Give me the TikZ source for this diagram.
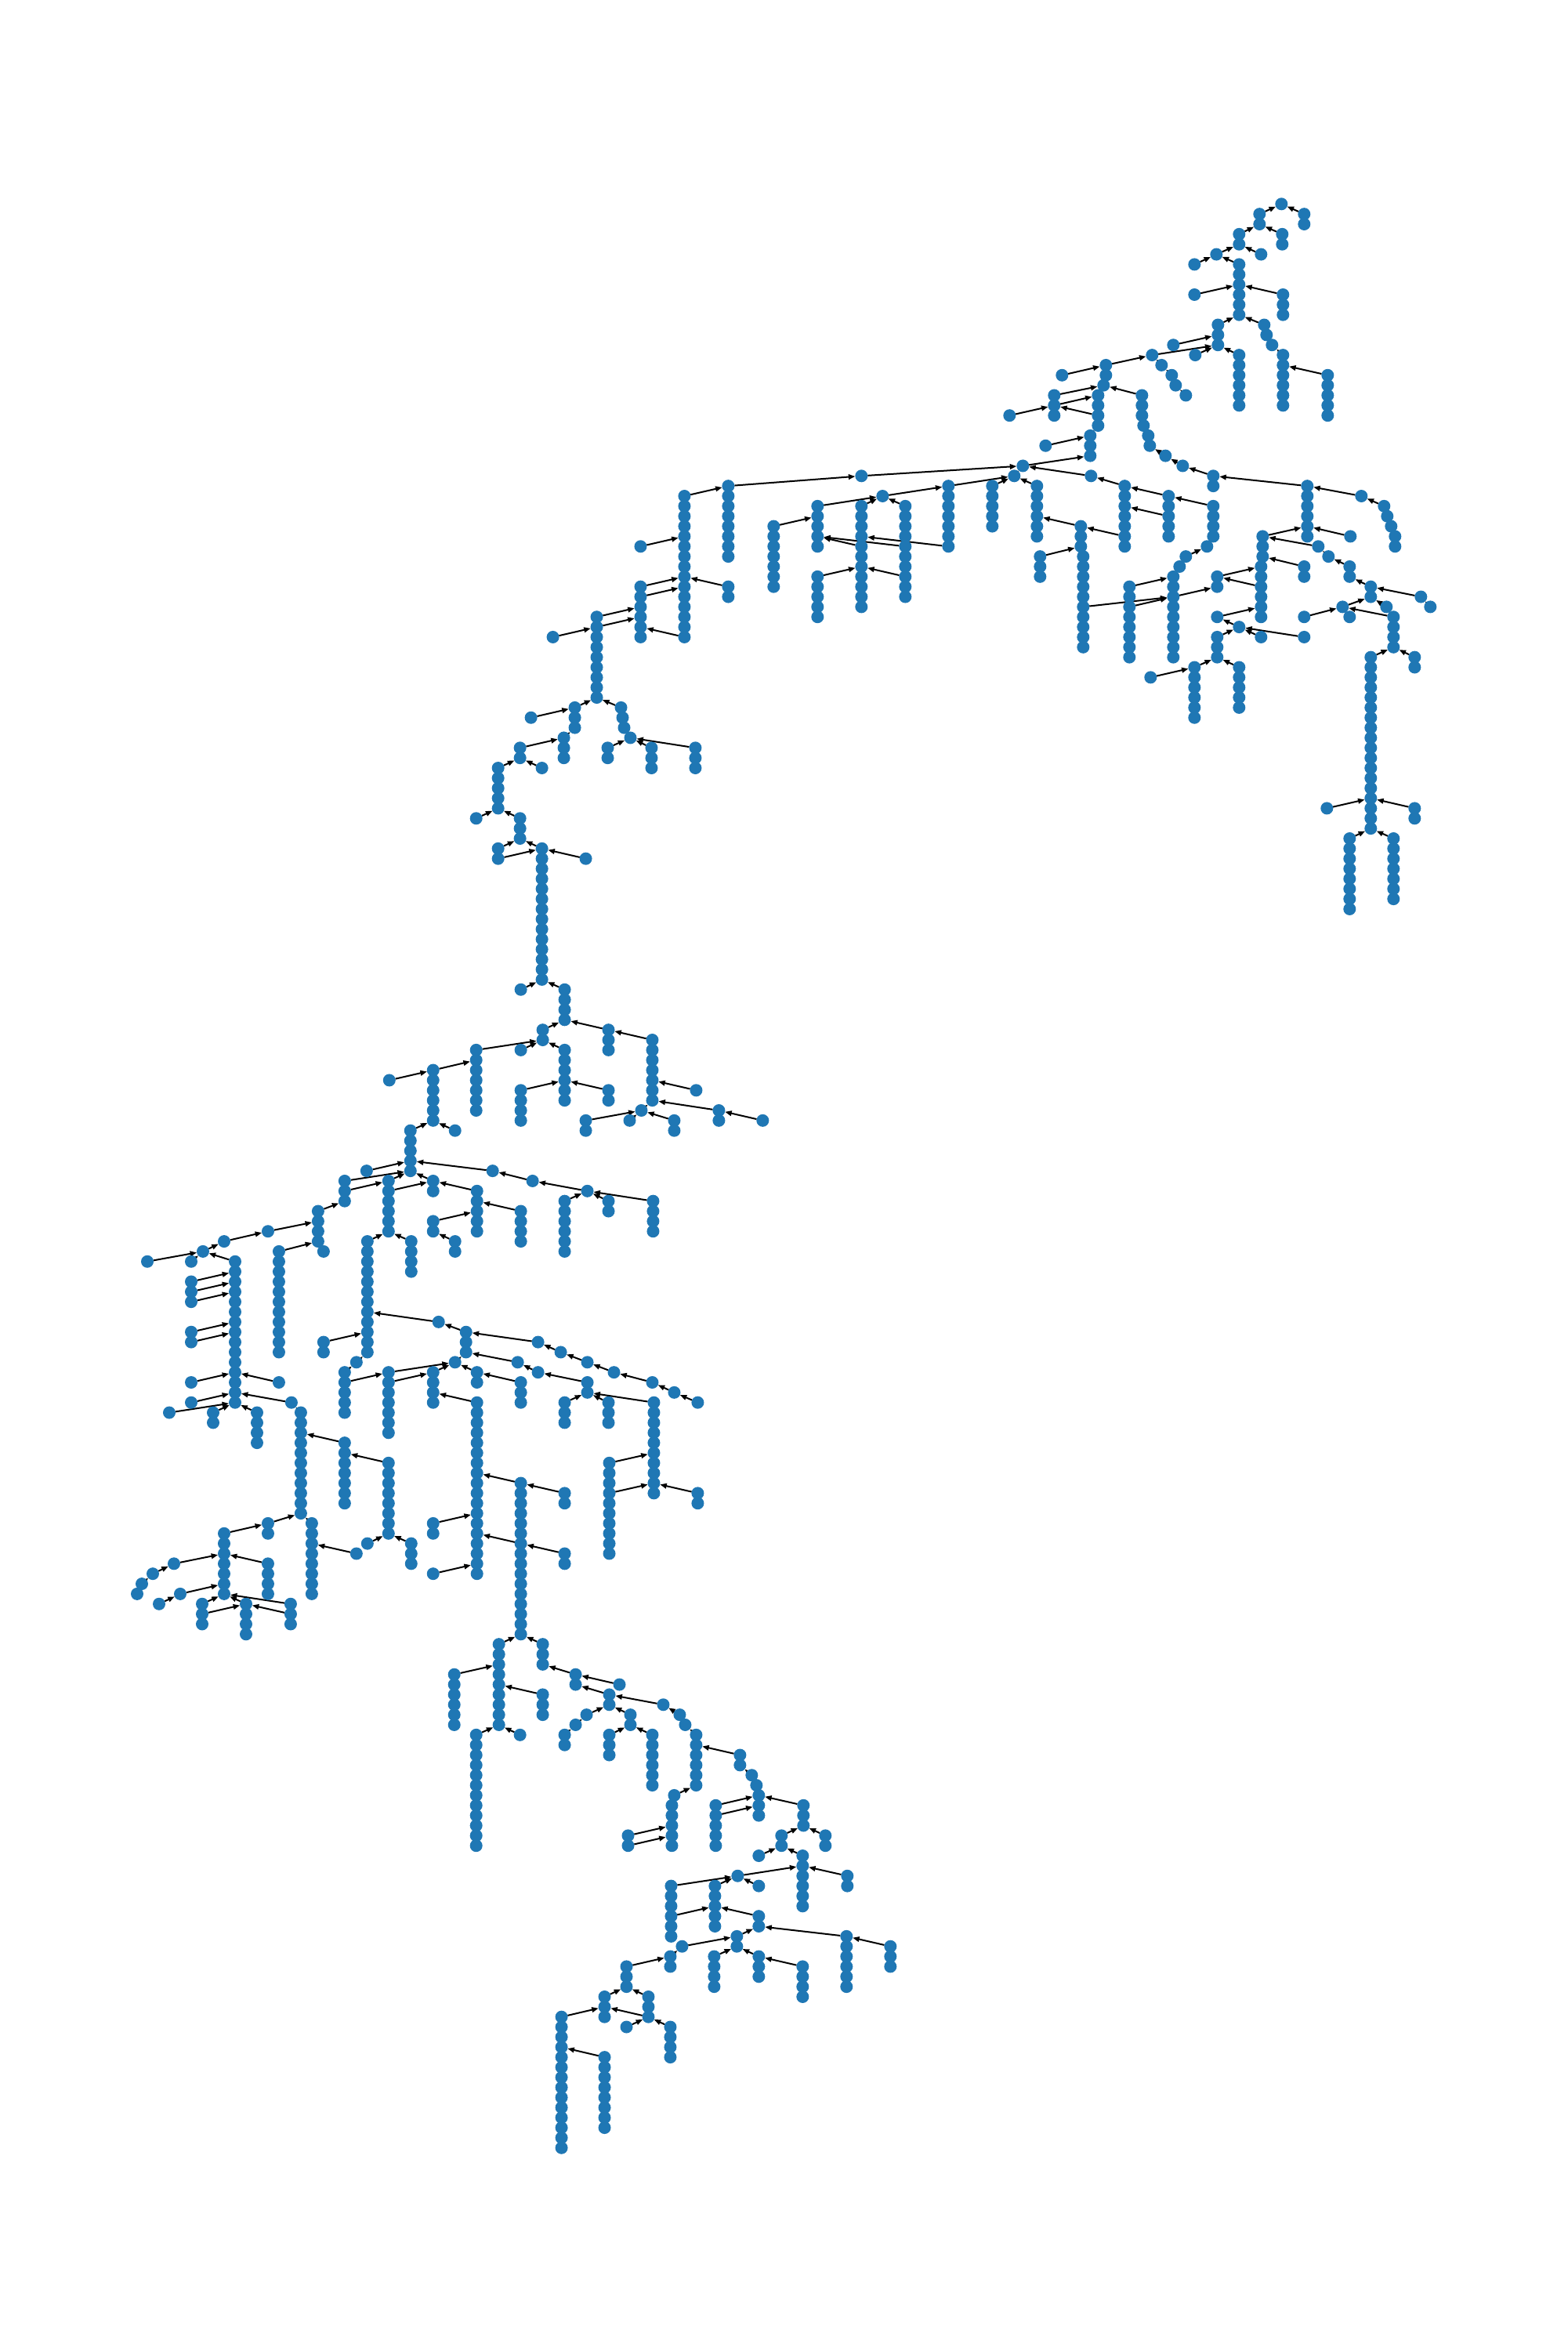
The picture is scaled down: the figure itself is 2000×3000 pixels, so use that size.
\documentclass[tikz,border=0pt]{standalone}
\usetikzlibrary{arrows.meta,backgrounds}
\definecolor{nodeblue}{HTML}{1F77B4}
\tikzset{
  vertex/.style={circle,fill=nodeblue,draw=none,inner sep=0pt,outer sep=0pt,minimum size=16pt},
  hidlink/.style={line width=2pt,black},
  link/.style={line width=2pt,black,-{Triangle[length=8.5pt,width=6.5pt]}}
}
% vertical chain: x, first level, last level
\def\vcnodes#1#2#3{%
  \foreach \l in {#2,...,#3}{%
    \node[vertex] (n#1-\l) at ({(#1-min(0.7,max(0,(#1-300)*0.001)))*1pt},{-(260.3+12.852*\l)*1pt}) {};
  }}
\def\vclinks#1#2#3{%
  \foreach \l in {#2,...,#3}{%
    \ifnum\l>#2\relax
      \pgfmathtruncatemacro{\p}{\l-1}
      \draw[hidlink] (n#1-\p.center) -- (n#1-\l.center);
    \fi
  }}
\def\cn#1#2#3#4{\draw[link] (n#1-#2) -- (n#3-#4);}
\def\allchains{%
\vc{1636}{0}{0}\vc{1608}{1}{2}\vc{1665}{1}{2}\vc{1582}{3}{4}\vc{1637}{3}{4}\vc{1553}{5}{5}\vc{1610}{5}{5}\vc{1525}{6}{6}\vc{1582}{6}{11}\vc{1525}{9}{9}\vc{1638}{9}{11}\vc{1555}{12}{14}\vc{1614}{12}{12}\vc{1617}{13}{13}\vc{1624}{14}{14}\vc{1638}{15}{20}\vc{1695}{17}{21}\vc{1498}{14}{14}\vc{1526}{15}{15}\vc{1582}{15}{20}\vc{1471}{15}{15}\vc{1412}{16}{17}\vc{1483}{16}{16}\vc{1496}{17}{17}\vc{1501}{18}{18}\vc{1514}{19}{19}\vc{1356}{17}{17}\vc{1409}{18}{18}\vc{1402}{19}{22}\vc{1458}{19}{21}\vc{1460}{22}{22}\vc{1466}{23}{23}\vc{1468}{24}{24}\vc{1488}{25}{25}\vc{1510}{26}{26}\vc{1549}{27}{28}\vc{1346}{19}{21}\vc{1289}{21}{21}\vc{1392}{23}{25}\vc{1335}{24}{24}\vc{1306}{26}{26}\vc{1295}{27}{27}\vc{1100}{27}{27}\vc{1393}{27}{27}\vc{1436}{28}{34}\vc{1492}{29}{33}\vc{1549}{30}{33}\vc{1541}{34}{34}\vc{1514}{35}{35}\vc{1506}{36}{36}\vc{1498}{37}{45}\vc{1267}{28}{32}\vc{1324}{28}{33}\vc{1211}{28}{34}\vc{1127}{29}{29}\vc{1044}{30}{34}\vc{1100}{30}{40}\vc{1156}{30}{39}\vc{1380}{32}{34}\vc{1383}{35}{44}\vc{1328}{35}{37}\vc{1442}{38}{45}\vc{1554}{37}{38}\vc{1612}{33}{35}\vc{1610}{36}{41}\vc{1669}{28}{33}\vc{1738}{29}{29}\vc{1767}{30}{30}\vc{1771}{31}{31}\vc{1776}{32}{32}\vc{1781}{33}{34}\vc{1724}{33}{33}\vc{1683}{34}{34}\vc{1696}{35}{35}\vc{1723}{36}{37}\vc{1665}{36}{37}\vc{1750}{38}{39}\vc{1814}{39}{39}\vc{1826}{40}{40}\vc{1714}{40}{40}\vc{1723}{41}{41}\vc{1665}{41}{41}\vc{1770}{40}{40}\vc{1779}{41}{44}\vc{1750}{45}{62}\vc{1806}{45}{46}\vc{1554}{41}{41}\vc{1582}{42}{42}\vc{1554}{43}{45}\vc{1610}{43}{43}\vc{1665}{43}{43}\vc{1525}{46}{51}\vc{1582}{46}{50}\vc{1469}{47}{47}\vc{1694}{60}{60}\vc{1806}{60}{61}\vc{1723}{63}{70}\vc{1779}{63}{69}%
\vc{930}{28}{35}\vc{874}{29}{43}\vc{818}{34}{34}\vc{818}{38}{43}\vc{930}{38}{39}\vc{762}{41}{49}\vc{706}{43}{43}\vc{734}{50}{52}\vc{793}{50}{50}\vc{795}{51}{51}\vc{797}{52}{52}\vc{805}{53}{53}\vc{678}{51}{51}\vc{720}{53}{55}\vc{664}{54}{55}\vc{776}{54}{55}\vc{832}{54}{56}\vc{888}{54}{56}\vc{636}{56}{60}\vc{692}{56}{56}\vc{608}{61}{61}\vc{664}{61}{63}\vc{636}{64}{65}\vc{692}{64}{77}\vc{748}{65}{65}\vc{988}{32}{38}\vc{1044}{37}{41}%
\vc{665}{78}{78}\vc{721}{78}{81}\vc{693}{82}{83}\vc{777}{82}{84}\vc{833}{83}{89}\vc{665}{84}{84}\vc{721}{84}{89}\vc{608}{84}{90}\vc{553}{86}{91}\vc{497}{87}{87}\vc{665}{88}{91}\vc{777}{88}{89}\vc{889}{88}{88}\vc{819}{90}{90}\vc{918}{90}{91}\vc{974}{91}{91}\vc{748}{91}{92}\vc{804}{91}{91}\vc{861}{91}{92}\vc{581}{92}{92}\vc{524}{92}{96}\vc{468}{96}{96}\vc{629}{96}{96}\vc{680}{97}{97}\vc{750}{98}{98}\vc{721}{99}{104}\vc{777}{99}{100}\vc{834}{99}{102}\vc{553}{97}{98}\vc{609}{98}{102}\vc{496}{97}{102}\vc{553}{101}{102}\vc{665}{100}{103}\vc{581}{103}{104}\vc{469}{103}{114}\vc{525}{103}{106}%
\vc{440}{97}{99}\vc{406}{100}{103}\vc{413}{104}{104}\vc{342}{102}{102}\vc{286}{103}{103}\vc{259}{104}{104}\vc{188}{105}{105}\vc{244}{105}{105}\vc{300}{105}{119}\vc{244}{107}{109}\vc{244}{112}{113}\vc{244}{117}{117}\vc{356}{117}{117}\vc{244}{119}{119}\vc{356}{104}{114}\vc{216}{120}{120}\vc{272}{120}{121}\vc{328}{120}{123}\vc{372}{119}{119}\vc{384}{120}{130}\vc{440}{123}{129}\vc{496}{125}{132}\vc{342}{131}{132}\vc{286}{132}{138}\vc{398}{131}{138}\vc{469}{133}{133}\vc{525}{133}{135}\vc{455}{134}{134}\vc{413}{113}{114}\vc{560}{111}{111}\vc{595}{112}{114}\vc{687}{113}{113}\vc{716}{114}{114}\vc{750}{115}{115}\vc{784}{116}{116}\vc{833}{117}{117}\vc{861}{118}{118}\vc{891}{119}{119}\vc{581}{115}{115}\vc{455}{115}{115}\vc{440}{116}{120}\vc{496}{116}{122}\vc{553}{116}{119}\vc{609}{116}{117}\vc{665}{117}{119}\vc{661}{115}{115}\vc{687}{116}{116}\vc{750}{117}{118}\vc{721}{119}{121}\vc{777}{119}{121}\vc{835}{119}{128}\vc{891}{128}{129}\vc{778}{125}{134}\vc{609}{119}{136}\vc{553}{131}{132}\vc{665}{127}{142}\vc{721}{128}{129}\vc{721}{134}{135}\vc{553}{136}{136}%
\vc{222}{135}{135}\vc{195}{136}{136}\vc{181}{137}{137}\vc{175}{138}{138}\vc{342}{135}{138}\vc{230}{138}{138}\vc{203}{139}{139}\vc{258}{139}{141}\vc{314}{139}{142}\vc{371}{139}{141}%
\vc{637}{143}{151}\vc{693}{143}{145}\vc{735}{146}{147}\vc{791}{147}{147}\vc{693}{148}{150}\vc{778}{148}{149}\vc{847}{149}{149}\vc{868}{150}{150}\vc{875}{151}{151}\vc{889}{152}{157}\vc{861}{158}{158}\vc{858}{159}{163}\vc{945}{154}{155}\vc{749}{150}{150}\vc{735}{151}{151}\vc{721}{152}{153}\vc{805}{150}{151}\vc{778}{152}{154}\vc{833}{152}{157}\vc{580}{146}{151}\vc{608}{152}{163}\vc{664}{152}{152}\vc{802}{162}{163}\vc{914}{159}{163}\vc{960}{156}{156}\vc{966}{157}{157}\vc{969}{158}{160}\vc{1026}{159}{161}\vc{998}{162}{163}\vc{1054}{162}{163}\vc{969}{164}{164}\vc{1025}{164}{169}\vc{1082}{166}{167}\vc{942}{166}{166}\vc{969}{167}{167}\vc{913}{167}{171}\vc{857}{167}{172}\vc{969}{170}{171}\vc{941}{172}{173}\vc{1081}{172}{177}\vc{1137}{173}{175}\vc{871}{173}{173}\vc{856}{174}{175}\vc{800}{175}{177}\vc{912}{174}{177}\vc{969}{174}{176}\vc{1025}{175}{178}\vc{828}{178}{180}\vc{772}{178}{180}\vc{717}{180}{193}\vc{800}{181}{181}\vc{856}{181}{184}\vc{772}{184}{191}%
}
\begin{document}
\begin{tikzpicture}[x=1pt,y=1pt]
\useasboundingbox (0,0) rectangle (2000pt,-3000pt);
\let\vc\vcnodes
\allchains
\begin{pgfonlayer}{background}
\let\vc\vclinks
\allchains
\cn{1608}{1}{1636}{0}\cn{1665}{1}{1636}{0}\cn{1582}{3}{1608}{2}\cn{1637}{3}{1608}{2}\cn{1553}{5}{1582}{4}\cn{1610}{5}{1582}{4}\cn{1525}{6}{1553}{5}\cn{1582}{6}{1553}{5}\cn{1525}{9}{1582}{8}\cn{1638}{9}{1582}{8}\cn{1555}{12}{1582}{11}\cn{1614}{12}{1582}{11}\cn{1617}{13}{1614}{12}\cn{1624}{14}{1617}{13}\cn{1638}{15}{1624}{14}\cn{1695}{17}{1638}{16}\cn{1498}{14}{1555}{13}\cn{1526}{15}{1555}{14}\cn{1582}{15}{1555}{14}\cn{1471}{15}{1555}{14}\cn{1412}{16}{1471}{15}\cn{1483}{16}{1471}{15}\cn{1496}{17}{1483}{16}\cn{1501}{18}{1496}{17}\cn{1514}{19}{1501}{18}\cn{1356}{17}{1412}{16}\cn{1409}{18}{1412}{17}\cn{1402}{19}{1409}{18}\cn{1458}{19}{1409}{18}\cn{1460}{22}{1458}{21}\cn{1466}{23}{1460}{22}\cn{1468}{24}{1466}{23}\cn{1488}{25}{1468}{24}\cn{1510}{26}{1488}{25}\cn{1549}{27}{1510}{26}\cn{1346}{19}{1409}{18}\cn{1346}{20}{1402}{19}\cn{1402}{21}{1346}{20}\cn{1289}{21}{1346}{20}\cn{1392}{23}{1402}{22}\cn{1335}{24}{1392}{23}\cn{1306}{26}{1392}{25}\cn{1295}{27}{1306}{26}\cn{1100}{27}{1306}{26}\cn{1393}{27}{1306}{26}\cn{1436}{28}{1393}{27}\cn{930}{28}{1100}{27}
\cn{1492}{29}{1436}{28}\cn{1492}{31}{1436}{30}\cn{1549}{30}{1492}{29}\cn{1541}{34}{1549}{33}\cn{1514}{35}{1541}{34}\cn{1506}{36}{1514}{35}\cn{1498}{37}{1506}{36}\cn{1267}{28}{1295}{27}\cn{1324}{28}{1295}{27}\cn{1211}{28}{1295}{27}\cn{1127}{29}{1211}{28}\cn{1044}{30}{1127}{29}\cn{1100}{30}{1127}{29}\cn{1156}{30}{1127}{29}\cn{1211}{34}{1100}{33}\cn{1156}{34}{1044}{33}\cn{1100}{34}{1044}{33}\cn{1156}{37}{1100}{36}\cn{1380}{32}{1324}{31}\cn{1436}{33}{1380}{32}\cn{1383}{35}{1380}{34}\cn{1328}{35}{1380}{34}\cn{1442}{38}{1498}{37}\cn{1442}{40}{1498}{39}\cn{1383}{40}{1498}{39}\cn{1498}{39}{1554}{38}\cn{1610}{38}{1554}{37}\cn{1554}{37}{1610}{36}\cn{1610}{36}{1612}{35}\cn{1612}{33}{1669}{32}\cn{1669}{28}{1549}{27}\cn{1738}{29}{1669}{28}\cn{1767}{30}{1738}{29}\cn{1771}{31}{1767}{30}\cn{1776}{32}{1771}{31}\cn{1781}{33}{1776}{32}\cn{1724}{33}{1669}{32}\cn{1683}{34}{1612}{33}\cn{1696}{35}{1683}{34}\cn{1723}{36}{1696}{35}\cn{1665}{36}{1612}{35}\cn{1750}{38}{1723}{37}\cn{1814}{39}{1750}{38}\cn{1826}{40}{1814}{39}\cn{1714}{40}{1750}{39}\cn{1723}{41}{1714}{40}\cn{1665}{41}{1714}{40}\cn{1770}{40}{1750}{39}\cn{1779}{41}{1714}{40}\cn{1750}{45}{1779}{44}\cn{1806}{45}{1779}{44}\cn{1554}{41}{1610}{40}\cn{1582}{42}{1554}{41}\cn{1554}{43}{1582}{42}\cn{1610}{43}{1582}{42}\cn{1665}{43}{1582}{42}\cn{1525}{46}{1554}{45}\cn{1582}{46}{1554}{45}\cn{1469}{47}{1525}{46}\cn{1694}{60}{1750}{59}\cn{1806}{60}{1750}{59}\cn{1723}{63}{1750}{62}\cn{1779}{63}{1750}{62}
\cn{874}{29}{930}{28}\cn{818}{34}{874}{33}\cn{818}{38}{874}{37}\cn{818}{39}{874}{38}\cn{874}{43}{818}{42}\cn{930}{38}{874}{37}\cn{762}{41}{818}{40}\cn{762}{42}{818}{41}\cn{706}{43}{762}{42}\cn{734}{50}{762}{49}\cn{793}{50}{762}{49}\cn{795}{51}{793}{50}\cn{797}{52}{795}{51}\cn{805}{53}{797}{52}\cn{678}{51}{734}{50}\cn{720}{53}{734}{52}\cn{664}{54}{720}{53}\cn{776}{54}{805}{53}\cn{832}{54}{805}{53}\cn{888}{54}{805}{53}\cn{636}{56}{664}{55}\cn{692}{56}{664}{55}\cn{608}{61}{636}{60}\cn{664}{61}{636}{60}\cn{636}{64}{664}{63}\cn{692}{64}{664}{63}\cn{636}{65}{692}{64}\cn{748}{65}{692}{64}\cn{988}{32}{1044}{31}\cn{1044}{37}{1100}{36}
\cn{665}{78}{692}{77}\cn{721}{78}{692}{77}\cn{693}{82}{721}{81}\cn{777}{82}{721}{81}\cn{833}{83}{777}{82}\cn{665}{84}{693}{83}\cn{721}{84}{693}{83}\cn{608}{84}{693}{83}\cn{553}{86}{608}{85}\cn{497}{87}{553}{86}\cn{665}{88}{721}{87}\cn{777}{88}{721}{87}\cn{889}{88}{833}{87}\cn{819}{90}{833}{89}\cn{918}{90}{833}{89}\cn{974}{91}{918}{90}\cn{748}{91}{819}{90}\cn{804}{91}{819}{90}\cn{861}{91}{819}{90}\cn{581}{92}{553}{91}\cn{524}{92}{553}{91}\cn{468}{96}{524}{95}\cn{629}{96}{524}{95}\cn{680}{97}{629}{96}\cn{750}{98}{680}{97}\cn{721}{99}{750}{98}\cn{777}{99}{750}{98}\cn{834}{99}{750}{98}\cn{553}{97}{524}{96}\cn{609}{98}{553}{97}\cn{496}{97}{524}{96}\cn{496}{98}{553}{97}\cn{553}{101}{609}{100}\cn{665}{100}{609}{99}\cn{581}{103}{553}{102}\cn{469}{103}{496}{102}\cn{525}{103}{496}{102}
\cn{440}{97}{524}{96}\cn{440}{98}{496}{97}\cn{406}{100}{440}{99}\cn{413}{104}{406}{103}\cn{342}{102}{406}{101}\cn{286}{103}{342}{102}\cn{259}{104}{286}{103}\cn{188}{105}{259}{104}\cn{244}{105}{259}{104}\cn{300}{105}{259}{104}\cn{244}{107}{300}{106}\cn{244}{108}{300}{107}\cn{244}{109}{300}{108}\cn{244}{112}{300}{111}\cn{244}{113}{300}{112}\cn{244}{117}{300}{116}\cn{356}{117}{300}{116}\cn{244}{119}{300}{118}\cn{356}{104}{406}{103}\cn{216}{120}{300}{119}\cn{272}{120}{300}{119}\cn{328}{120}{300}{119}\cn{372}{119}{300}{118}\cn{384}{120}{372}{119}\cn{440}{123}{384}{122}\cn{496}{125}{440}{124}\cn{342}{131}{384}{130}\cn{286}{132}{342}{131}\cn{398}{131}{384}{130}\cn{469}{133}{496}{132}\cn{525}{133}{496}{132}\cn{455}{134}{398}{133}\cn{413}{113}{469}{112}\cn{560}{111}{469}{110}\cn{595}{112}{560}{111}\cn{687}{113}{595}{112}\cn{716}{114}{687}{113}\cn{750}{115}{716}{114}\cn{784}{116}{750}{115}\cn{833}{117}{784}{116}\cn{861}{118}{833}{117}\cn{891}{119}{861}{118}\cn{581}{115}{595}{114}\cn{455}{115}{469}{114}\cn{440}{116}{455}{115}\cn{496}{116}{581}{115}\cn{553}{116}{581}{115}\cn{609}{116}{581}{115}\cn{440}{117}{496}{116}\cn{496}{117}{553}{116}\cn{665}{117}{609}{116}\cn{661}{115}{595}{114}\cn{687}{116}{661}{115}\cn{750}{117}{687}{116}\cn{721}{119}{750}{118}\cn{777}{119}{750}{118}\cn{835}{119}{750}{118}\cn{891}{128}{835}{127}\cn{778}{125}{835}{124}\cn{778}{128}{835}{127}\cn{609}{119}{553}{118}\cn{553}{131}{609}{130}\cn{665}{127}{609}{126}\cn{665}{133}{609}{132}\cn{721}{128}{665}{127}\cn{721}{134}{665}{133}\cn{553}{136}{609}{135}
\cn{222}{135}{286}{134}\cn{195}{136}{222}{135}\cn{181}{137}{195}{136}\cn{175}{138}{181}{137}\cn{342}{135}{286}{134}\cn{230}{138}{286}{137}\cn{203}{139}{230}{138}\cn{258}{139}{286}{138}\cn{314}{139}{286}{138}\cn{371}{139}{286}{138}\cn{371}{140}{314}{139}\cn{258}{140}{314}{139}
\cn{637}{143}{665}{142}\cn{693}{143}{665}{142}\cn{735}{146}{693}{145}\cn{791}{147}{735}{146}\cn{693}{148}{637}{147}\cn{778}{148}{735}{147}\cn{847}{149}{778}{148}\cn{868}{150}{847}{149}\cn{875}{151}{868}{150}\cn{889}{152}{875}{151}\cn{861}{158}{889}{157}\cn{858}{159}{861}{158}\cn{945}{154}{889}{153}\cn{749}{150}{778}{149}\cn{735}{151}{749}{150}\cn{721}{152}{735}{151}\cn{805}{150}{778}{149}\cn{778}{152}{805}{151}\cn{833}{152}{805}{151}\cn{580}{146}{637}{145}\cn{608}{152}{637}{151}\cn{664}{152}{637}{151}\cn{802}{162}{858}{161}\cn{802}{163}{858}{162}\cn{914}{159}{969}{158}\cn{914}{160}{969}{159}\cn{960}{156}{945}{155}\cn{966}{157}{960}{156}\cn{969}{158}{966}{157}\cn{1026}{159}{969}{158}\cn{998}{162}{1026}{161}\cn{1054}{162}{1026}{161}\cn{969}{164}{998}{163}\cn{1025}{164}{998}{163}\cn{1082}{166}{1025}{165}\cn{942}{166}{1025}{165}\cn{969}{167}{942}{166}\cn{913}{167}{942}{166}\cn{857}{167}{942}{166}\cn{857}{170}{913}{169}\cn{969}{170}{913}{169}\cn{941}{172}{969}{171}\cn{1081}{172}{969}{171}\cn{1137}{173}{1081}{172}\cn{871}{173}{941}{172}\cn{856}{174}{871}{173}\cn{800}{175}{856}{174}\cn{912}{174}{941}{173}\cn{969}{174}{941}{173}\cn{1025}{175}{969}{174}\cn{828}{178}{800}{177}\cn{772}{178}{800}{177}\cn{828}{180}{772}{179}\cn{717}{180}{772}{179}\cn{800}{181}{828}{180}\cn{856}{181}{828}{180}\cn{772}{184}{717}{183}
\end{pgfonlayer}
\end{tikzpicture}
\end{document}
